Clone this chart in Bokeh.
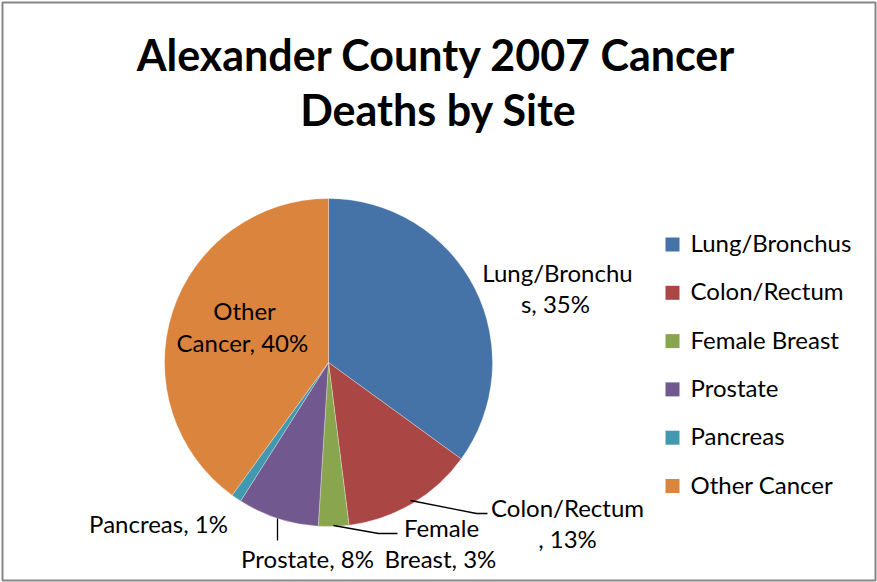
import numpy as np
from bokeh.plotting import figure
from bokeh.models import Range1d
from bokeh.embed import file_html
from bokeh.resources import INLINE
from bokeh.core.properties import value

# ---- data ----
categories = ["Lung/Bronchus", "Colon/Rectum", "Female Breast", "Prostate", "Pancreas", "Other Cancer"]
percents = [35, 13, 3, 8, 1, 40]
colors = ["#4572A7", "#AA4643", "#89A54E", "#71588F", "#4198AF", "#DB843D"]
title_lines = ["Alexander County 2007 Cancer", "Deaths by Site"]

# ---- layout helpers (reference pixel coordinates) ----
W_FIG, H_FIG = 877, 582
def Y(v):
    return H_FIG - v

p = figure(width=W_FIG, height=H_FIG, output_backend="svg", toolbar_location=None,
           x_range=Range1d(0, W_FIG), y_range=Range1d(0, H_FIG),
           min_border=0, background_fill_color="white", border_fill_color="white")
p.axis.visible = False
p.grid.visible = False
p.outline_line_color = None

FONT = value("Lato")
LAB_SIZE = "24px"
LAB_DY = -10     # baseline correction for label texts
TIT_DY = -16     # baseline correction for title texts

# chart border
p.rect(x=[438.5], y=[Y(291)], width=873, height=578, fill_color=None,
       line_color="#868686", line_width=2)

# ---- pie ----
cx, cy, r = 328, Y(362), 164
frac = np.cumsum([0] + percents) / float(sum(percents))
ends = np.pi / 2 - frac[:-1] * 2 * np.pi
starts = np.pi / 2 - frac[1:] * 2 * np.pi
p.wedge(x=[cx] * len(percents), y=[cy] * len(percents), radius=r,
        start_angle=list(starts), end_angle=list(ends), direction="anticlock",
        fill_color=colors, line_color="white", line_width=0.6, line_alpha=0.5)

# ---- data labels ----
labels = [f"{c}, {v}%" for c, v in zip(categories, percents)]
breaks = [12, 12, 6, None, None, 5]
label_pos = [
    [(557, 282), (555, 313)],
    [(567, 517), (567, 548)],
    [(441, 537), (443, 568)],
    [(307, 568)],
    [(158, 533)],
    [(244, 320), (245, 352)],
]
tx, ty, tt = [], [], []
for lab, b, pos in zip(labels, breaks, label_pos):
    parts = [lab] if b is None else [lab[:b], lab[b:]]
    for part, (x, y) in zip(parts, pos):
        tx.append(x); ty.append(Y(y + LAB_DY)); tt.append(part)
p.text(x=tx, y=ty, text=tt, text_font=FONT, text_font_size=LAB_SIZE,
       text_align="center", text_baseline="alphabetic", text_color="black")

# leader lines
leaders = [
    [(410, 500), (476, 513), (487, 513)],
    [(333, 525), (378, 533), (397, 533)],
    [(277, 518), (277, 540)],
]
for pts in leaders:
    p.line([q[0] for q in pts], [Y(q[1]) for q in pts], line_color="black", line_width=1.3)

# ---- title ----
p.text(x=[436, 438], y=[Y(70 + TIT_DY), Y(125 + TIT_DY)], text=title_lines, text_font=FONT,
       text_font_style="bold", text_font_size="43px", text_align="center",
       text_baseline="alphabetic", text_color="black")

# ---- legend ----
ly = [244 + 48.3 * i for i in range(len(categories))]
p.rect(x=[672] * len(categories), y=[Y(v) for v in ly], width=14, height=14,
       fill_color=colors, line_color=None)
p.text(x=[690] * len(categories), y=[Y(v + 8 + LAB_DY) for v in ly], text=categories,
       text_font=FONT, text_font_size=LAB_SIZE, text_align="left",
       text_baseline="alphabetic", text_color="black")

open("out.html", "w").write(file_html(p, INLINE))
